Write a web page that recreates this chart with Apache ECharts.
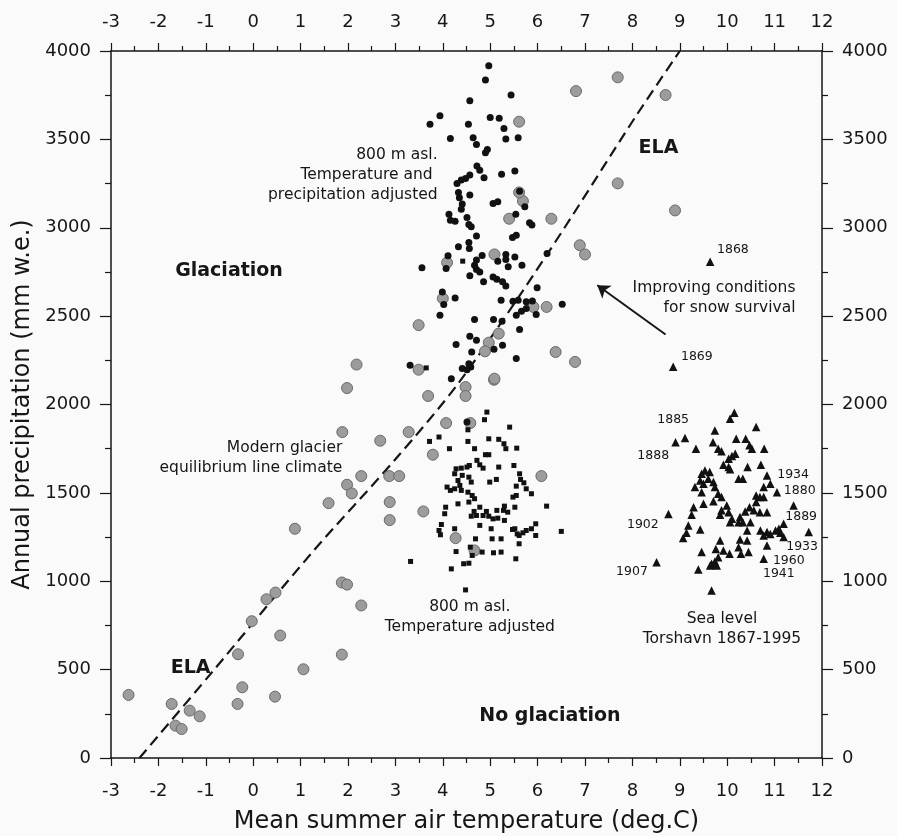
<!DOCTYPE html>
<html>
<head>
<meta charset="utf-8">
<title>Glaciation climate</title>
<script src="https://cdn.jsdelivr.net/npm/echarts@6/dist/echarts.min.js"></script>
<style>
  html, body { margin: 0; padding: 0; background: #fafafa; }
  #chart { width: 897px; height: 836px; }
</style>
</head>
<body>
<div id="chart"></div>
<script>
// Modern glacier equilibrium line climate (grey circles)
const modernGlaciers = [
  [-2.63, 357], [-1.72, 306], [-1.64, 183], [-1.51, 164], [-1.34, 268], [-1.13, 236],
  [-0.33, 306], [-0.23, 400], [-0.32, 587], [-0.03, 774], [0.28, 898], [0.47, 936],
  [0.57, 693], [0.46, 347], [0.88, 1297], [1.06, 502], [1.59, 1442], [1.88, 1844],
  [1.98, 2093], [1.98, 1546], [2.08, 1497], [1.87, 993], [1.98, 981], [2.28, 863],
  [1.87, 585], [2.28, 1595], [2.68, 1795], [2.87, 1595], [3.08, 1595], [2.88, 1448],
  [2.88, 1346], [3.28, 1844], [3.59, 1395], [3.69, 2048], [4.07, 1895], [3.79, 1716],
  [4.27, 1244], [4.67, 1174], [4.58, 1895], [4.48, 2099], [4.48, 2048], [5.08, 2140],
  [6.08, 1595], [7.69, 3851], [6.81, 3773], [8.70, 3751], [5.61, 3600], [7.69, 3251],
  [8.90, 3098], [5.69, 3151], [5.61, 3200], [5.40, 3051], [6.29, 3051], [6.89, 2901],
  [7.00, 2849], [5.09, 2849], [4.09, 2803], [4.00, 2600], [6.19, 2552], [5.91, 2552],
  [3.49, 2449], [5.18, 2401], [4.97, 2350], [4.89, 2301], [6.38, 2297], [6.79, 2241],
  [3.49, 2197], [5.09, 2146], [2.18, 2226]
]

// 800 m asl, temperature and precipitation adjusted (black dots)
const adjustedBoth = [
  [4.97, 3917], [4.90, 3836], [5.44, 3751], [4.57, 3719], [3.94, 3634], [3.73, 3585],
  [4.54, 3585], [5.00, 3624], [5.19, 3619], [5.29, 3562], [5.33, 3502], [5.59, 3509],
  [4.16, 3505], [4.64, 3509], [4.71, 3471], [4.94, 3443], [4.90, 3424], [4.72, 3349],
  [4.78, 3326], [4.87, 3283], [5.24, 3302], [5.52, 3321], [4.57, 3298], [4.48, 3279],
  [4.39, 3270], [4.30, 3251], [4.33, 3200], [4.57, 3185], [4.35, 3170], [4.41, 3134],
  [4.39, 3105], [5.06, 3137], [5.16, 3147], [5.62, 3207], [5.73, 3119], [5.54, 3077],
  [4.13, 3077], [4.16, 3043], [4.26, 3037], [4.51, 3058], [4.55, 3018], [4.60, 3005],
  [4.71, 2954], [5.83, 3028], [5.88, 3015], [5.55, 2958], [5.47, 2945], [4.55, 2917],
  [4.56, 2883], [4.33, 2892], [4.11, 2841], [3.56, 2773], [4.83, 2843], [4.71, 2817],
  [4.67, 2788], [4.71, 2764], [4.78, 2750], [4.86, 2694], [4.57, 2728], [4.07, 2769],
  [5.16, 2811], [5.33, 2849], [5.33, 2820], [5.38, 2779], [5.52, 2835], [5.67, 2788],
  [5.06, 2722], [5.14, 2709], [5.26, 2694], [5.33, 2671], [3.99, 2637], [4.02, 2566],
  [4.26, 2603], [3.94, 2505], [5.23, 2590], [5.48, 2584], [5.59, 2590], [5.76, 2581],
  [5.89, 2586], [5.99, 2660], [6.20, 2854], [6.52, 2567], [5.55, 2505], [5.66, 2528],
  [5.76, 2543], [5.97, 2509], [4.67, 2481], [5.07, 2481], [5.25, 2471], [5.62, 2424],
  [4.57, 2386], [4.71, 2364], [4.28, 2339], [5.08, 2313], [5.26, 2335], [4.61, 2297],
  [5.55, 2260], [4.55, 2231], [4.51, 2197], [4.59, 2212], [3.31, 2222], [4.18, 2146],
  [4.41, 2203], [4.51, 1901]
]

// 800 m asl, temperature adjusted (black squares)
const adjustedTemp = [
  [4.42, 2811], [3.65, 2207],
  [4.93, 1957], [4.88, 1914], [5.41, 1872], [4.53, 1857], [3.72, 1791], [3.92, 1816],
  [4.14, 1750], [4.53, 1791], [4.67, 1750], [4.97, 1806], [5.18, 1803], [5.29, 1778],
  [5.33, 1750], [5.56, 1753], [4.72, 1684], [4.90, 1716], [4.97, 1716], [4.78, 1659],
  [4.85, 1640], [4.28, 1636], [4.39, 1640], [4.51, 1646], [4.56, 1655], [4.25, 1608],
  [4.41, 1599], [4.55, 1589], [5.18, 1646], [5.50, 1655], [5.62, 1608], [5.13, 1576],
  [4.99, 1561], [4.32, 1570], [4.36, 1542], [4.60, 1561], [5.64, 1576], [5.71, 1557],
  [5.55, 1538], [4.09, 1533], [4.16, 1514], [4.25, 1523], [4.39, 1514], [4.53, 1504],
  [4.62, 1485], [4.67, 1467], [5.76, 1523], [5.87, 1495], [4.32, 1438], [4.55, 1448],
  [4.06, 1419], [4.78, 1419], [4.66, 1395], [4.71, 1372], [4.85, 1372], [4.92, 1395],
  [4.04, 1382], [4.60, 1368], [5.14, 1401], [5.16, 1357], [5.30, 1425], [5.28, 1401],
  [5.52, 1419], [5.37, 1391], [5.48, 1476], [5.55, 1485], [6.19, 1425], [5.06, 1353],
  [4.97, 1368], [5.30, 1344], [3.97, 1321], [4.25, 1297], [3.95, 1263], [3.92, 1287],
  [4.78, 1316], [5.02, 1297], [5.52, 1297], [5.57, 1268], [5.47, 1293], [5.69, 1274],
  [5.76, 1287], [5.87, 1297], [5.96, 1325], [5.61, 1259], [5.96, 1259], [6.50, 1282],
  [5.04, 1240], [5.23, 1240], [4.69, 1240], [5.61, 1212], [4.28, 1168], [4.58, 1193],
  [4.83, 1165], [5.07, 1161], [5.23, 1165], [5.54, 1127], [4.62, 1146], [4.55, 1102],
  [4.44, 1099], [4.18, 1070], [3.32, 1112], [4.48, 951]
]

// Sea level, Torshavn 1867-1995 (black triangles)
const torshavn = [
  [9.64, 2807], [8.86, 2213],
  [10.15, 1954], [10.06, 1920], [10.61, 1872], [9.74, 1853], [9.11, 1810], [8.91, 1787],
  [9.34, 1750], [9.70, 1787], [9.81, 1750], [9.88, 1735], [10.19, 1806], [10.39, 1806],
  [10.47, 1769], [10.52, 1750], [10.78, 1750], [10.10, 1708], [10.17, 1721], [10.03, 1693],
  [9.92, 1659], [10.03, 1646], [10.06, 1633], [10.43, 1646], [10.71, 1659], [10.84, 1599],
  [10.77, 1533], [10.91, 1552], [11.05, 1504], [9.53, 1627], [9.46, 1608], [9.63, 1618],
  [9.43, 1570], [9.60, 1580], [9.50, 1552], [9.71, 1561], [9.74, 1533], [9.32, 1533],
  [9.46, 1504], [9.81, 1495], [9.88, 1476], [10.24, 1580], [10.33, 1580], [10.61, 1485],
  [10.69, 1476], [10.77, 1476], [10.61, 1448], [11.40, 1429], [9.29, 1419], [9.50, 1438],
  [9.71, 1452], [9.99, 1429], [9.88, 1401], [9.85, 1376], [10.03, 1391], [10.10, 1353],
  [10.06, 1334], [9.25, 1376], [10.38, 1395], [10.47, 1419], [10.56, 1401], [10.69, 1391],
  [10.84, 1391], [10.27, 1363], [10.24, 1334], [10.33, 1334], [10.49, 1334], [10.42, 1287],
  [8.76, 1380], [9.18, 1316], [9.14, 1274], [9.43, 1293], [9.07, 1244], [10.70, 1287],
  [10.84, 1278], [10.77, 1259], [10.91, 1268], [11.02, 1287], [11.09, 1297], [11.19, 1325],
  [11.12, 1274], [11.19, 1250], [11.72, 1278], [10.84, 1202], [9.85, 1231], [9.76, 1183],
  [9.92, 1174], [10.05, 1155], [10.27, 1236], [10.42, 1231], [10.24, 1193], [10.29, 1155],
  [10.45, 1165], [9.46, 1165], [9.81, 1136], [9.74, 1112], [9.67, 1099], [9.78, 1089],
  [9.64, 1089], [10.77, 1127], [9.39, 1066], [8.51, 1108], [9.67, 948]
]

// ELA curve (dashed)
const elaLine = [
  [-2.4, 0], [-0.87, 485], [1.25, 1165], [3.0, 1690], [4.35, 2128],
  [6.19, 2845], [8.09, 3638], [9.0, 4000]
]

// year labels next to triangles
const yearLabels = [
  [8.86, 1914, '1885'], [8.44, 1708, '1888'], [11.39, 1604, '1934'], [11.53, 1514, '1880'],
  [8.22, 1321, '1902'], [11.56, 1367, '1889'], [11.58, 1193, '1933'], [11.30, 1117, '1960'],
  [7.99, 1051, '1907'], [11.09, 1042, '1941'], [10.12, 2877, '1868'], [9.36, 2269, '1869']
]

// annotations: x, y, text, align, bold
const notes = [
  [3.89, 3298, '800 m asl.\nTemperature and \nprecipitation adjusted', 'right', false],
  [-0.51, 2756, 'Glaciation', 'center', true],
  [8.55, 3449, 'ELA', 'center', true],
  [-1.32, 508, 'ELA', 'center', true],
  [1.88, 1697, 'Modern glacier\nequilibrium line climate', 'right', false],
  [4.57, 797, '800 m asl.\nTemperature adjusted', 'center', false],
  [9.89, 730, 'Sea level\nTorshavn 1867-1995', 'center', false],
  [6.26, 236, 'No glaciation', 'center', true],
  [11.44, 2601, 'Improving conditions\nfor snow survival', 'right', false]
]

const arrowFrom = [8.70, 2396]
const arrowTo = [7.26, 2675]

const xTicks = { min: -3, max: 12, interval: 1 }
const yTicks = { min: 0, max: 4000, interval: 500 }

const FONT = 'DejaVu Sans'
const INK = '#161616'

function xAxisOf(pos, extra) {
  return Object.assign({
    type: 'value',
    position: pos,
    min: xTicks.min,
    max: xTicks.max,
    interval: xTicks.interval,
    axisLine: { onZero: false, lineStyle: { color: INK, width: 1.5 } },
    axisTick: { length: 8, lineStyle: { color: INK, width: 1.2 } },
    minorTick: { show: true, splitNumber: 2, length: 5, lineStyle: { color: INK, width: 1.2 } },
    splitLine: { show: false },
    axisLabel: { fontFamily: FONT, fontSize: 18, color: INK, margin: pos === 'top' ? 20 : 24 }
  }, extra || {})
}

function yAxisOf(pos, extra) {
  return Object.assign({
    type: 'value',
    position: pos,
    min: yTicks.min,
    max: yTicks.max,
    interval: yTicks.interval,
    axisLine: { onZero: false, lineStyle: { color: INK, width: 1.5 } },
    axisTick: { length: 11, lineStyle: { color: INK, width: 1.2 } },
    minorTick: { show: true, splitNumber: 2, length: 6, lineStyle: { color: INK, width: 1.2 } },
    splitLine: { show: false },
    axisLabel: {
      fontFamily: FONT, fontSize: 18, color: INK, margin: 20,
      formatter: v => String(v)
    }
  }, extra || {})
}

const chart = echarts.init(document.getElementById('chart'))

chart.setOption({
  backgroundColor: '#fafafa',
  animation: false,
  textStyle: { fontFamily: FONT },
  grid: { left: 111, right: 75, top: 51, bottom: 78, containLabel: false, outerBoundsMode: 'none' },
  xAxis: [
    xAxisOf('bottom', {
      name: 'Mean summer air temperature (deg.C)',
      nameLocation: 'middle',
      nameGap: 52,
      nameTextStyle: { fontFamily: FONT, fontSize: 24, color: INK }
    }),
    xAxisOf('top')
  ],
  yAxis: [
    yAxisOf('left', {
      name: 'Annual precipitation (mm w.e.)',
      nameLocation: 'middle',
      nameGap: 64,
      nameTextStyle: { fontFamily: FONT, fontSize: 24, color: INK }
    }),
    yAxisOf('right')
  ],
  series: [
    {
      name: 'ELA',
      type: 'line',
      data: elaLine,
      smooth: 0.3,
      showSymbol: false,
      silent: true,
      z: 1,
      lineStyle: { color: INK, width: 2.2, type: [11, 6] }
    },
    {
      name: 'Modern glacier equilibrium line climate',
      type: 'scatter',
      data: modernGlaciers,
      symbol: 'circle',
      symbolSize: 11,
      z: 2,
      itemStyle: { color: '#9c9c9c', borderColor: '#6a6a6a', borderWidth: 1, opacity: 1 }
    },
    {
      name: '800 m asl. Temperature adjusted',
      type: 'scatter',
      data: adjustedTemp,
      symbol: 'rect',
      symbolSize: 5,
      z: 3,
      itemStyle: { color: '#111', opacity: 1 }
    },
    {
      name: '800 m asl. Temperature and precipitation adjusted',
      type: 'scatter',
      data: adjustedBoth,
      symbol: 'circle',
      symbolSize: 7,
      z: 4,
      itemStyle: { color: '#111', opacity: 1 }
    },
    {
      name: 'Sea level Torshavn 1867-1995',
      type: 'scatter',
      data: torshavn,
      symbol: 'triangle',
      symbolSize: 8.5,
      z: 4,
      itemStyle: { color: '#111', opacity: 1 }
    },
    {
      name: 'years',
      type: 'scatter',
      data: yearLabels,
      symbolSize: 0,
      silent: true,
      z: 5,
      itemStyle: { opacity: 1 },
      label: {
        show: true,
        position: 'inside',
        formatter: p => p.data[2],
        fontFamily: FONT,
        fontSize: 12.5,
        color: INK
      }
    },
    {
      name: 'notes',
      type: 'scatter',
      symbolSize: 0,
      silent: true,
      z: 5,
      itemStyle: { opacity: 1 },
      data: notes.map(n => ({
        value: [n[0], n[1]],
        label: {
          show: true,
          position: 'inside',
          formatter: n[2],
          align: n[3],
          fontWeight: n[4] ? 'bold' : 'normal',
          fontSize: n[4] ? 19 : 15.5,
          lineHeight: 20,
          fontFamily: FONT,
          color: INK
        }
      })),
      markLine: {
        silent: true,
        symbol: ['none', 'arrow'],
        symbolSize: 12,
        label: { show: false },
        lineStyle: { color: INK, width: 2, type: 'solid', opacity: 1 },
        data: [[{ coord: arrowFrom }, { coord: arrowTo }]]
      }
    }
  ]
})
</script>
</body>
</html>
